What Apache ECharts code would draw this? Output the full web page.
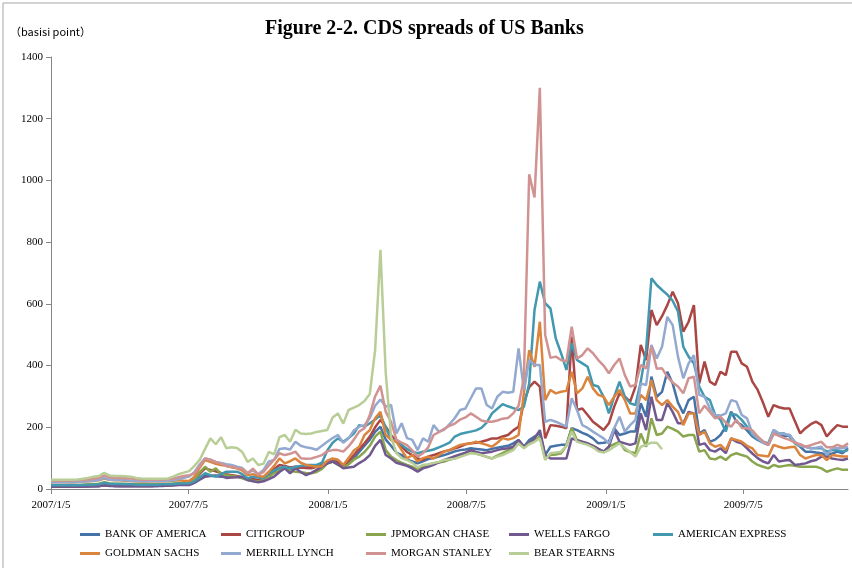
<!DOCTYPE html>
<html lang="en">
<head>
<meta charset="UTF-8">
<title>CDS spreads of US Banks</title>
<script src="https://cdn.jsdelivr.net/npm/echarts@6.0.0/dist/echarts.min.js"></script>
<style>
html,body{margin:0;padding:0;background:#fff}
#chartBox{width:852px;height:568px}
</style>
</head>
<body>
<div id="chartBox"></div>
<script>
// weekly CDS spreads (basis points), first observation 2007/1/5
const tickLabels = ['2007/1/5', '2007/7/5', '2008/1/5', '2008/7/5', '2009/1/5', '2009/7/5'];
const seriesNames = ['BANK OF AMERICA', 'CITIGROUP', 'JPMORGAN CHASE', 'WELLS FARGO', 'AMERICAN EXPRESS',
    'GOLDMAN SACHS', 'MERRILL LYNCH', 'MORGAN STANLEY', 'BEAR STEARNS'];
const seriesColors = ['#4572A7', '#AA4643', '#89A54E', '#71588F', '#4198AF', '#DB843D', '#93A9CF', '#D19392', '#B9CD96'];

const bankOfAmerica = [
    7,7,7,7,7,7,8,8,9,9,12,10,10,9,9,9,9,9,9,9,10,10,11,12,14,16,18,
    25,35,45,43,41,40,40,40,40,36,30,32,28,32,45,55,65,67,62,67,70,70,72,75,80,89,94,90,75,82,
    100,120,140,160,185,202,160,140,118,110,95,89,83,90,97,100,105,110,116,122,126,128,132,130,128,126,130,134,137,140,
    148,159,137,159,170,180,110,137,140,143,143,197,191,182,175,164,148,150,153,197,175,180,186,186,278,234,364,299,315,380,
    342,280,245,288,299,180,191,153,160,175,202,251,218,207,190,170,159,150,143,180,175,170,175,150,137,121,121,118,116,110,115,121,116,132
];
const citigroup = [
    8,8,8,8,8,8,9,9,10,10,13,11,10,10,10,10,10,10,10,10,11,11,12,13,15,17,20,
    30,50,67,62,57,52,48,45,42,38,32,32,29,35,50,65,78,75,70,72,70,68,67,72,78,83,89,85,78,90,
    110,130,148,170,200,224,202,175,153,137,120,110,99,94,105,110,116,122,126,132,137,145,148,150,153,158,164,164,170,175,
    190,202,280,330,348,332,164,207,205,202,197,494,256,261,240,218,205,191,213,267,310,299,283,332,467,418,580,531,560,596,
    639,602,510,542,596,342,413,348,337,380,369,445,445,407,396,348,321,280,234,272,265,261,261,220,180,197,210,218,207,170,190,207,202,202
];
const jpmorganChase = [
    12,12,12,12,13,13,14,15,16,17,22,19,17,17,17,16,16,15,15,16,16,16,17,18,19,20,20,
    30,55,72,56,67,50,45,42,40,35,29,27,24,30,40,51,60,67,60,56,54,52,51,55,65,83,89,78,70,80,
    95,105,120,140,170,186,126,105,94,85,78,72,62,72,76,83,86,89,95,100,108,115,121,115,110,104,99,108,116,125,
    132,148,137,150,159,170,99,110,112,116,140,197,159,152,148,140,130,121,137,145,153,126,120,116,180,137,229,175,180,202,
    195,186,170,175,175,121,126,99,96,105,94,110,116,110,105,89,78,72,67,78,72,75,78,75,72,72,72,72,67,56,62,67,62,62
];
const wellsFargo = [
    8,8,8,8,8,8,8,9,9,10,12,11,10,10,10,10,10,10,10,10,10,11,11,12,13,13,13,
    20,30,40,42,44,42,36,37,38,40,29,25,22,25,32,40,55,67,51,67,55,45,52,62,72,83,89,80,67,70,
    72,84,94,110,140,159,110,99,85,80,75,67,56,67,72,78,86,94,100,106,112,118,126,120,116,118,121,126,130,132,
    137,159,137,150,164,191,110,99,99,99,99,164,158,153,148,140,130,121,137,191,153,148,143,148,245,191,299,224,224,278,
    250,213,213,250,245,143,148,126,121,132,116,164,153,148,132,115,100,89,83,110,89,92,94,78,80,83,90,94,105,105,99,96,94,99
];
const americanExpress = [
    12,12,12,12,12,12,13,13,14,15,20,17,16,16,15,15,14,14,14,14,14,15,15,16,18,18,18,
    25,38,51,45,40,48,56,56,56,48,35,40,37,35,51,60,68,72,67,72,75,78,78,78,85,125,150,164,153,165,
    180,207,202,213,225,240,200,159,159,143,130,121,116,121,124,128,135,142,150,170,178,182,186,190,198,215,245,260,275,268,
    262,256,267,342,580,672,602,585,488,440,386,472,418,407,396,337,332,299,245,299,348,299,278,272,348,450,683,661,645,630,
    610,575,461,429,407,332,299,288,240,224,186,245,240,224,202,175,160,153,148,191,180,180,170,148,140,137,132,132,132,121,126,126,121,126
];
const goldmanSachs = [
    22,22,22,22,22,23,24,25,27,28,34,30,28,28,27,26,25,24,24,25,25,25,26,27,28,27,26,
    40,70,94,88,82,78,75,70,67,60,45,48,42,40,56,75,99,83,90,99,85,78,75,72,74,92,99,95,78,100,
    125,137,175,191,229,250,175,159,153,126,99,110,89,100,105,99,110,121,126,135,143,146,148,153,148,143,137,150,165,160,
    165,175,310,450,396,542,288,321,310,315,318,380,310,326,364,326,305,299,272,299,321,288,245,245,305,288,353,288,272,288,
    267,250,207,245,245,175,186,148,137,143,126,164,159,153,140,132,110,108,105,143,137,132,135,137,110,99,105,110,110,94,110,108,105,105
];
const merrillLynch = [
    22,22,22,22,22,23,24,25,27,29,36,31,29,29,28,27,26,25,25,26,26,26,27,28,32,36,40,
    55,80,99,95,88,84,80,78,72,68,51,60,48,62,89,94,130,132,128,153,140,135,132,127,140,153,165,175,150,164,
    190,202,207,230,270,290,267,272,180,213,165,159,126,164,153,207,186,192,210,230,256,261,294,326,326,272,261,299,315,312,
    315,456,321,418,402,402,218,224,218,210,202,294,256,207,198,186,175,164,148,197,234,186,207,224,342,337,467,423,461,558,
    531,429,359,407,434,305,299,261,240,238,245,288,283,240,229,180,165,150,143,191,180,178,175,153,140,137,132,134,137,110,132,132,132,137
];
const morganStanley = [
    27,27,27,27,27,28,29,30,33,36,44,38,36,36,35,34,32,30,30,31,31,31,32,33,38,42,45,
    50,75,99,95,88,82,74,72,68,66,51,66,47,55,76,95,116,110,114,121,100,98,99,104,110,122,126,126,121,138,
    160,186,197,240,300,335,250,218,160,150,142,125,105,116,135,175,184,195,205,212,225,232,245,234,222,218,218,222,228,230,
    245,270,360,1020,945,1300,500,425,429,418,413,526,423,434,456,440,418,400,375,402,423,369,332,337,402,391,461,390,391,364,
    345,332,310,359,364,245,270,250,229,234,215,202,224,198,197,190,170,155,143,180,172,165,159,150,145,137,142,148,153,135,135,143,137,148
];
const bearStearns = [
    30,30,30,30,30,31,33,36,40,42,52,44,42,42,41,40,36,34,33,33,33,33,34,40,48,53,58,
    75,95,130,164,145,168,132,135,133,120,88,99,78,82,120,112,168,175,153,192,180,178,180,185,188,191,232,245,212,256,
    264,272,285,308,450,775,376,169,117,100,94,85,70,78,80,84,88,94,96,98,104,110,116,114,110,105,99,105,110,118,
    126,148,132,145,153,164,94,116,118,121,140,186,153,148,143,135,122,118,126,137,148,133,120,105,137,143,150,150,129
];

const allSeries = [bankOfAmerica, citigroup, jpmorganChase, wellsFargo, americanExpress,
    goldmanSachs, merrillLynch, morganStanley, bearStearns];

// x is counted in days from the first observation, one observation per week
const DAY = 86400000;
const t0 = Date.UTC(2007, 0, 5);
function dayOf(label) {
    const p = label.split('/').map(Number);
    return Math.round((Date.UTC(p[0], p[1] - 1, p[2]) - t0) / DAY);
}
function labelOf(day) {
    const d = new Date(t0 + day * DAY);
    return d.getUTCFullYear() + '/' + (d.getUTCMonth() + 1) + '/' + d.getUTCDate();
}
const tickDays = tickLabels.map(dayOf);
const lastDay = (bankOfAmerica.length - 1) * 7;

const serif = "'Liberation Serif', 'Times New Roman', serif";
const legendCols = [80, 221, 366, 509, 653];
const legendRows = [529, 548];

const option = {
    animation: false,
    color: seriesColors,
    title: {
        text: 'Figure 2-2. CDS spreads of US Banks',
        left: 265,
        top: 19,
        padding: 0,
        textStyle: {fontFamily: serif, fontSize: 20, fontWeight: 'bold', color: '#000'}
    },
    graphic: [
        {
            type: 'rect', silent: true,
            shape: {x: 3, y: 3, width: 900, height: 600},
            style: {fill: null, stroke: '#a6a6a6', lineWidth: 1}
        },
        {
            type: 'text', left: 10, top: 26, silent: true,
            style: {text: '（basisi point）', font: "11px 'Noto Sans CJK JP', sans-serif", fill: '#000'}
        }
    ],
    legend: seriesNames.map((name, k) => ({
        data: [name],
        left: legendCols[k % 5],
        top: legendRows[Math.floor(k / 5)],
        padding: 0,
        icon: 'rect',
        itemWidth: 20,
        itemHeight: 3,
        itemGap: 0,
        selectedMode: false,
        textStyle: {fontFamily: serif, fontSize: 11, color: '#000'}
    })),
    grid: {left: 51, right: 4, top: 57, bottom: 79, containLabel: false},
    xAxis: {
        type: 'value',
        min: 0,
        max: lastDay,
        axisLine: {lineStyle: {color: '#868686', width: 1}},
        axisTick: {show: true, length: 5, customValues: tickDays, lineStyle: {color: '#868686'}},
        axisLabel: {
            customValues: tickDays,
            formatter: v => labelOf(v),
            margin: 11,
            fontFamily: serif,
            fontSize: 11,
            color: '#000'
        },
        splitLine: {show: false}
    },
    yAxis: {
        type: 'value',
        min: 0,
        max: 1400,
        interval: 200,
        axisLine: {show: true, lineStyle: {color: '#868686', width: 1}},
        axisTick: {show: true, length: 5, lineStyle: {color: '#868686'}},
        axisLabel: {margin: 8, fontFamily: serif, fontSize: 11, color: '#000', formatter: v => String(v)},
        splitLine: {show: false}
    },
    series: allSeries.map((vals, k) => ({
        name: seriesNames[k],
        type: 'line',
        symbol: 'none',
        silent: true,
        lineStyle: {width: 2.5},
        emphasis: {disabled: true},
        data: vals.map((v, i) => [i * 7, v])
    }))
};

const chartObj = echarts.init(document.getElementById('chartBox'));
chartObj.setOption(option);
</script>
</body>
</html>
